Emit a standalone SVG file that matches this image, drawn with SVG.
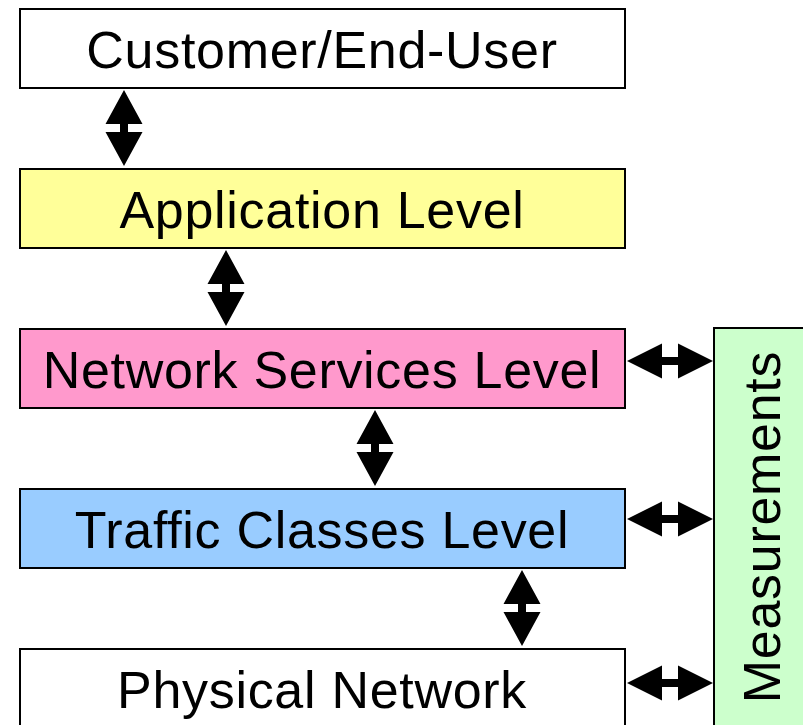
<svg xmlns="http://www.w3.org/2000/svg" width="803" height="725" viewBox="0 0 803 725">
  <style>
    .box { stroke: #000; stroke-width: 2; }
    .label { font-family: "Liberation Sans", Arial, sans-serif; font-size: 52px; letter-spacing: 0.7px; fill: #000; text-anchor: middle; }
    .arrow { fill: #000; }
  </style>
  <defs>
    <!-- double-headed block arrow, vertical, 80 long, tip at origin -->
    <path id="varrow" d="M0,2 L18.5,36 L4,36 L4,44 L18.5,44 L0,78 L-18.5,44 L-4,44 L-4,36 L-18.5,36 Z"/>
    <!-- double-headed block arrow, horizontal, 87 long, tip at origin -->
    <path id="harrow" d="M1,0 L36,-17.5 L36,-4 L52,-4 L52,-17.5 L87,0 L52,17.5 L52,4 L36,4 L36,17.5 Z"/>
  </defs>
  <rect width="803" height="725" fill="#fff"/>

  <g id="customer">
    <rect class="box" x="20" y="9" width="605" height="79" fill="#ffffff"/>
    <text class="label" x="322" y="68">Customer/End-User</text>
  </g>
  <g id="application">
    <rect class="box" x="20" y="169" width="605" height="79" fill="#ffff99"/>
    <text class="label" x="322" y="228">Application Level</text>
  </g>
  <g id="network-services">
    <rect class="box" x="20" y="329" width="605" height="79" fill="#ff99cc"/>
    <text class="label" x="322" y="388">Network Services Level</text>
  </g>
  <g id="traffic-classes">
    <rect class="box" x="20" y="489" width="605" height="79" fill="#99ccff"/>
    <text class="label" x="322" y="548">Traffic Classes Level</text>
  </g>
  <g id="physical">
    <rect class="box" x="20" y="649" width="605" height="90" fill="#ffffff"/>
    <text class="label" x="322" y="708">Physical Network</text>
  </g>
  <g id="measurements">
    <rect class="box" x="714" y="328" width="90" height="410" fill="#ccffcc"/>
    <text class="label" transform="translate(780,527) rotate(-90)" x="0" y="0">Measurements</text>
  </g>

  <g id="connectors" class="arrow">
    <use href="#varrow" x="124" y="88"/>
    <use href="#varrow" x="226" y="248"/>
    <use href="#varrow" x="375" y="408"/>
    <use href="#varrow" x="522" y="568"/>
    <use href="#harrow" x="626" y="361"/>
    <use href="#harrow" x="626" y="519"/>
    <use href="#harrow" x="626" y="683"/>
  </g>
</svg>
